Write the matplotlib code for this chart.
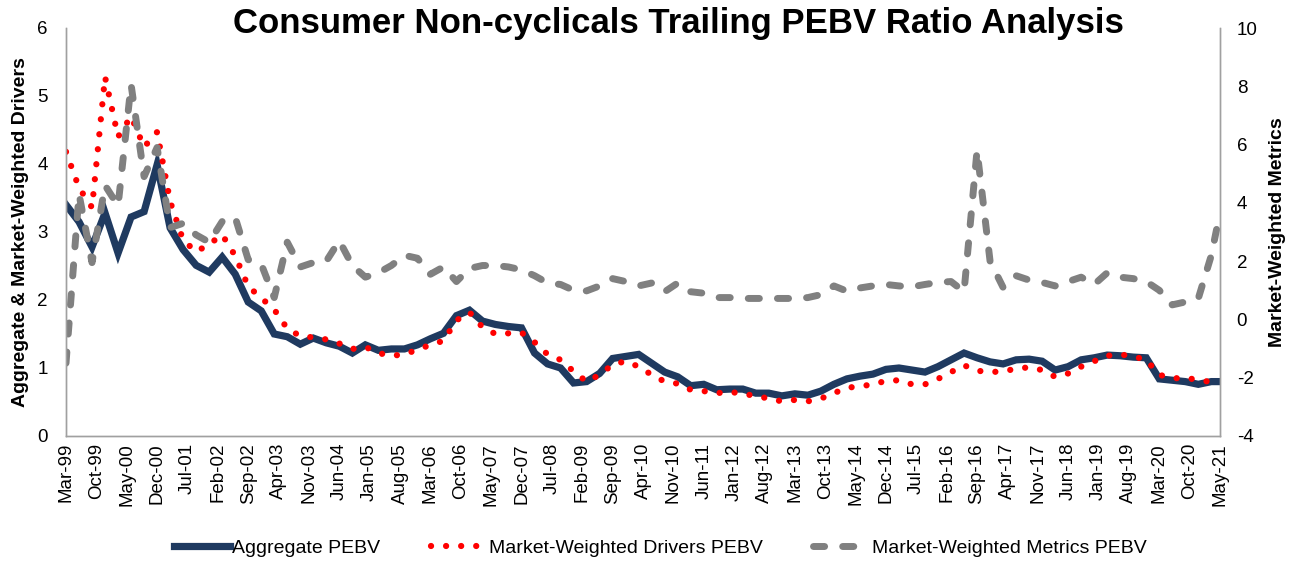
import matplotlib
matplotlib.use("Agg")
import matplotlib.pyplot as plt
from matplotlib.lines import Line2D

plt.rcParams['font.family'] = ['Liberation Sans', 'DejaVu Sans']
plt.rcParams['axes.unicode_minus'] = False

# month offsets from Mar-99 (quarter ends, last point May-21)
months = list(range(0, 265, 3)) + [266]

aggregate_pebv = [
    3.40, 3.15, 2.78, 3.28, 2.69, 3.22, 3.30, 3.99, 3.06, 2.74,
    2.51, 2.41, 2.63, 2.38, 1.97, 1.84, 1.50, 1.46, 1.35, 1.44,
    1.37, 1.32, 1.22, 1.34, 1.26, 1.28, 1.28, 1.34, 1.43, 1.51,
    1.77, 1.85, 1.69, 1.64, 1.61, 1.59, 1.22, 1.06, 1.00, 0.78,
    0.80, 0.92, 1.14, 1.17, 1.20, 1.07, 0.94, 0.87, 0.74, 0.76,
    0.68, 0.69, 0.69, 0.63, 0.63, 0.59, 0.62, 0.60, 0.66, 0.76,
    0.84, 0.88, 0.91, 0.98, 1.00, 0.97, 0.94, 1.02, 1.12, 1.22,
    1.15, 1.09, 1.06, 1.12, 1.13, 1.10, 0.97, 1.02, 1.12, 1.15,
    1.19, 1.18, 1.16, 1.15, 0.84, 0.82, 0.80, 0.76, 0.80, 0.80,
]

drivers_pebv = [
    4.18, 3.65, 3.36, 5.28, 4.40, 4.70, 4.25, 4.47, 3.45, 2.88,
    2.71, 2.82, 2.96, 2.65, 2.20, 2.03, 1.86, 1.58, 1.47, 1.45,
    1.42, 1.36, 1.28, 1.31, 1.22, 1.18, 1.20, 1.27, 1.34, 1.40,
    1.70, 1.82, 1.60, 1.50, 1.51, 1.52, 1.38, 1.20, 1.12, 0.95,
    0.80, 0.90, 1.05, 1.10, 1.02, 0.90, 0.80, 0.77, 0.68, 0.66,
    0.63, 0.65, 0.62, 0.59, 0.55, 0.51, 0.53, 0.51, 0.55, 0.63,
    0.71, 0.73, 0.76, 0.81, 0.82, 0.76, 0.76, 0.84, 0.94, 1.04,
    0.96, 0.94, 0.95, 0.99, 1.01, 0.97, 0.87, 0.92, 1.02, 1.10,
    1.18, 1.20, 1.17, 1.12, 0.90, 0.85, 0.85, 0.83, 0.79, 0.79,
]

metrics_pebv = [
    -1.50, 4.30, 1.95, 4.60, 3.90, 8.06, 4.90, 5.90, 3.15, 3.30,
    2.90, 2.65, 3.36, 3.50, 2.05, 1.90, 0.75, 2.65, 1.80, 1.95,
    2.00, 2.70, 1.85, 1.45, 1.60, 1.85, 2.20, 2.10, 1.55, 1.80,
    1.30, 1.75, 1.85, 1.85, 1.80, 1.70, 1.50, 1.25, 1.20, 1.00,
    0.98, 1.15, 1.40, 1.30, 1.15, 1.25, 0.95, 1.25, 0.95, 0.90,
    0.75, 0.75, 0.72, 0.72, 0.72, 0.72, 0.72, 0.75, 0.85, 1.15,
    0.97, 1.08, 1.15, 1.20, 1.15, 1.12, 1.20, 1.27, 1.30, 0.95,
    5.80, 2.00, 1.10, 1.50, 1.35, 1.27, 1.15, 1.30, 1.45, 1.20,
    1.60, 1.45, 1.40, 1.30, 1.00, 0.50, 0.60, 0.72, 2.20, 3.67,
]

MONTH_NAMES = ['Jan', 'Feb', 'Mar', 'Apr', 'May', 'Jun',
               'Jul', 'Aug', 'Sep', 'Oct', 'Nov', 'Dec']


def month_label(offset):
    idx = 2 + offset  # Mar-99 is month index 2 of 1999
    year = 1999 + idx // 12
    return f"{MONTH_NAMES[idx % 12]}-{year % 100:02d}"


navy = '#1F3A60'
red = '#FF0000'
grey = '#808080'
axis_grey = '#A0A0A0'

fig = plt.figure(figsize=(12.94, 5.61), dpi=100)
ax = fig.add_axes([66 / 1294, 125 / 561, 1154 / 1294, 408 / 561])
ax2 = ax.twinx()

ax.plot(months, aggregate_pebv, color=navy, lw=5.2, solid_joinstyle='miter',
        label='Aggregate PEBV', zorder=2)
ax.plot(months, drivers_pebv, color=red, lw=4.5, dashes=(0.01, 2.4),
        dash_capstyle='round', label='Market-Weighted Drivers PEBV', zorder=3)
ax2.plot(months, metrics_pebv, color=grey, lw=5.0, dashes=(1.6, 2.6),
         dash_capstyle='round', label='Market-Weighted Metrics PEBV')

ax.set_xlim(0, 266)
ax.set_ylim(0, 6)
ax2.set_ylim(-4, 10)

ticks = list(range(0, 267, 7))
ax.set_xticks(ticks)
ax.set_xticklabels([month_label(t) for t in ticks], rotation=90)
ax.set_yticks(range(0, 7))
ax2.set_yticks(range(-4, 11, 2))

for a in (ax, ax2):
    a.tick_params(length=0, labelsize=13.5, colors='black')
    a.spines['top'].set_visible(False)
    for side in ('left', 'right', 'bottom'):
        a.spines[side].set_color(axis_grey)
        a.spines[side].set_linewidth(1.0)
ax.tick_params(axis='y', pad=13)
ax.tick_params(axis='x', pad=5)
ax2.tick_params(axis='y', pad=12)

ax.set_ylabel('Aggregate & Market-Weighted Drivers', fontsize=14,
              fontweight='bold', labelpad=6)
ax2.set_ylabel('Market-Weighted Metrics', fontsize=14,
               fontweight='bold', labelpad=8)

fig.text(678 / 1294, 1 - 23 / 561,
         'Consumer Non-cyclicals Trailing PEBV Ratio Analysis',
         ha='center', va='center', fontsize=25, fontweight='bold')

handles = [
    Line2D([], [], color=navy, lw=5.2),
    Line2D([], [], color=red, lw=4.5, dashes=(0.01, 2.4), dash_capstyle='round'),
    Line2D([], [], color=grey, lw=5.0, dashes=(1.6, 2.6), dash_capstyle='round'),
]
labels = ['Aggregate PEBV', 'Market-Weighted Drivers PEBV',
          'Market-Weighted Metrics PEBV']
fig.legend(handles, labels, loc='center', bbox_to_anchor=(660 / 1294, 13 / 561),
           ncol=3, frameon=False, fontsize=14, handlelength=2.9,
           handletextpad=0.1, columnspacing=2.6)

fig.savefig('out.png', dpi=100)
